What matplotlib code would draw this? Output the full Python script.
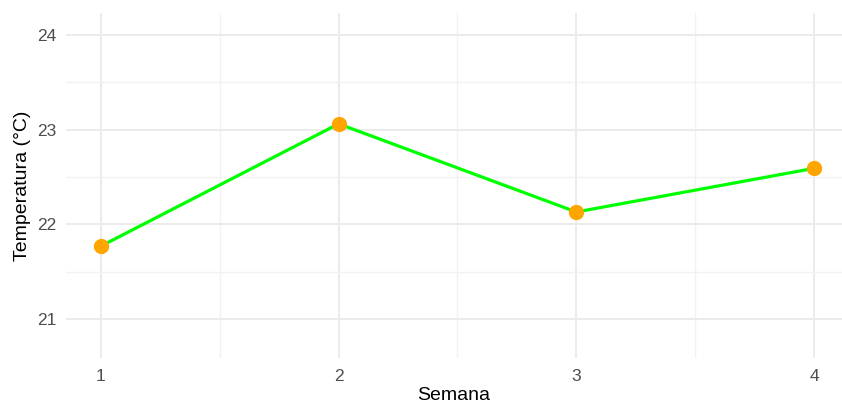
import numpy as np
import matplotlib.pyplot as plt

plt.rcParams['font.family'] = ['Liberation Sans', 'DejaVu Sans']

# dados
semana = [1, 2, 3, 4]
temperatura = [21.77, 23.06, 22.13, 22.59]

fig = plt.figure(figsize=(8.42, 4.04), dpi=100)
ax = fig.add_axes([0.0784, 0.114, 0.9216, 0.854])

ax.plot(semana, temperatura, color='#00FF00', lw=2.3, zorder=3)
ax.plot(semana, temperatura, 'o', color='#FFA500', ms=10, zorder=4)

ax.set_xlim(0.853, 4.118)
ax.set_ylim(20.59, 24.23)
ax.set_xticks(semana)
ax.set_yticks([21, 22, 23, 24])
ax.set_xticks([1.5, 2.5, 3.5], minor=True)
ax.set_yticks([21.5, 22.5, 23.5], minor=True)

ax.grid(True, which='major', color='#ebebeb', lw=1.4)
ax.grid(True, which='minor', color='#f2f2f2', lw=1.0)
ax.set_axisbelow(True)
for s in ax.spines.values():
    s.set_visible(False)
ax.tick_params(which='both', length=0)
ax.tick_params(axis='x', pad=8, labelsize=12.5, labelcolor='#4d4d4d')
ax.tick_params(axis='y', pad=7, labelsize=12.5, labelcolor='#4d4d4d')

ax.set_xlabel("Semana", fontsize=14)
ax.set_ylabel("Temperatura (°C)", fontsize=14)
ax.xaxis.set_label_coords(0.5, -0.11)
ax.yaxis.set_label_coords(-0.056, 0.5)
ax.xaxis.label.set_va('center')
ax.yaxis.label.set_va('center')

fig.savefig('out.png', dpi=100)
